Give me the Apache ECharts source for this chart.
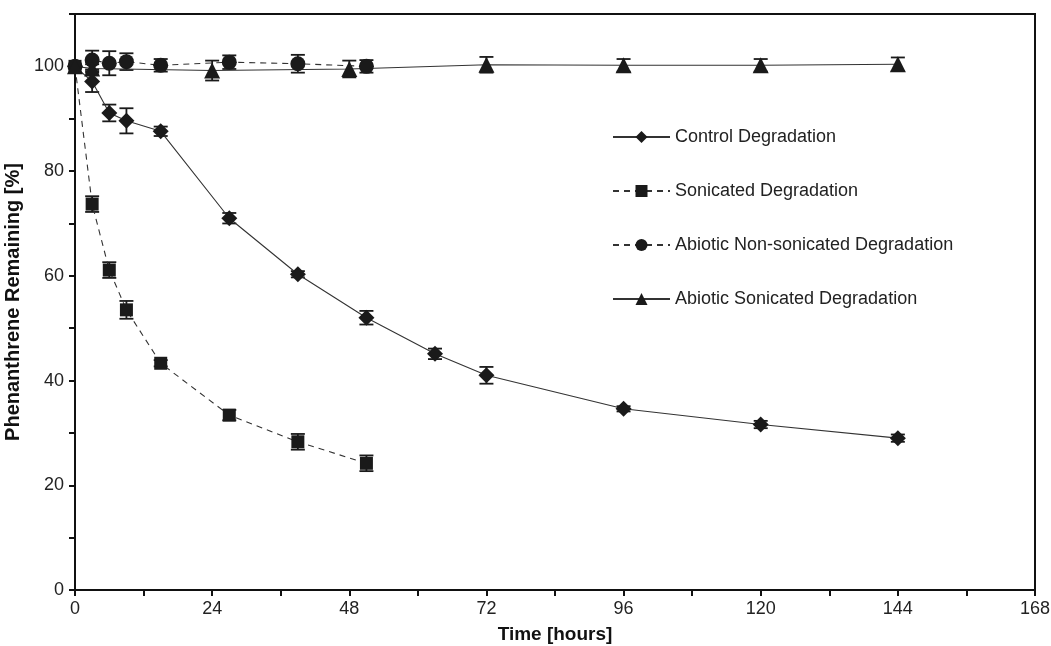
<!DOCTYPE html>
<html>
<head>
<meta charset="utf-8">
<script src="https://cdn.jsdelivr.net/npm/echarts@6/dist/echarts.min.js"></script>
<style>
  html, body { margin: 0; padding: 0; background: #fff; }
  #main { width: 1051px; height: 646px; }
</style>
</head>
<body>
<div id="main"></div>
<script>
// hours / % remaining / +- error
var controlTime = [0, 3, 6, 9, 15, 27, 39, 51, 63, 72, 96, 120, 144];
var controlVal  = [100, 97.1, 91.1, 89.6, 87.6, 71.0, 60.3, 52.0, 45.1, 41.0, 34.6, 31.6, 29.0];
var controlErr  = [0, 2.0, 1.6, 2.4, 0.9, 1.0, 0.6, 1.3, 1.0, 1.6, 0.5, 0.7, 0.7];

var sonicTime = [0, 3, 6, 9, 15, 27, 39, 51];
var sonicVal  = [100, 73.7, 61.1, 53.5, 43.3, 33.4, 28.3, 24.2];
var sonicErr  = [0, 1.5, 1.5, 1.7, 0.6, 1.0, 1.5, 1.5];

var abioticNonTime = [0, 3, 6, 9, 15, 27, 39, 51];
var abioticNonVal  = [100, 101.2, 100.6, 100.9, 100.2, 100.8, 100.5, 100.0];
var abioticNonErr  = [0, 1.8, 2.3, 1.6, 1.2, 1.3, 1.7, 1.2];

var abioticSonTime = [0, 3, 24, 48, 72, 96, 120, 144];
var abioticSonVal  = [100, 99.6, 99.2, 99.5, 100.3, 100.2, 100.2, 100.4];
var abioticSonErr  = [0, 0.8, 1.9, 1.6, 1.5, 1.2, 1.2, 1.3];

var seriesNames = ['Control Degradation', 'Sonicated Degradation',
                   'Abiotic Non-sonicated Degradation', 'Abiotic Sonicated Degradation'];

function pairs(t, v) {
    return t.map(function (x, i) { return [x, v[i]]; });
}
function errPairs(t, v, e) {
    return t.map(function (x, i) { return [x, v[i] - e[i], v[i] + e[i]]; })
            .filter(function (d) { return d[2] > d[1]; });
}

function errorBars(data) {
    return {
        type: 'custom',
        data: data,
        z: 3,
        silent: true,
        renderItem: function (params, api) {
            var x = api.value(0);
            var lo = api.coord([x, api.value(1)]);
            var hi = api.coord([x, api.value(2)]);
            var w = 7;
            var st = { stroke: '#1a1a1a', lineWidth: 1.8 };
            return {
                type: 'group',
                children: [
                    { type: 'line', shape: { x1: lo[0], y1: lo[1], x2: hi[0], y2: hi[1] }, style: st },
                    { type: 'line', shape: { x1: lo[0] - w, y1: lo[1], x2: lo[0] + w, y2: lo[1] }, style: st },
                    { type: 'line', shape: { x1: hi[0] - w, y1: hi[1], x2: hi[0] + w, y2: hi[1] }, style: st }
                ]
            };
        }
    };
}

function lineSeries(name, data, symbol, size, dashed) {
    return {
        name: name,
        type: 'line',
        data: data,
        symbol: symbol,
        symbolSize: size,
        showAllSymbol: true,
        z: 4,
        itemStyle: { color: '#1a1a1a' },
        lineStyle: { color: '#333', width: 1.1, type: dashed ? [6, 5] : 'solid' }
    };
}

var myChart = echarts.init(document.getElementById('main'));
var font = 'Liberation Sans, Arial, Helvetica, sans-serif';
var option = {
    animation: false,
    textStyle: { fontFamily: font },
    grid: { left: 75, right: 16, top: 14, bottom: 56, show: true,
            containLabel: false, outerBoundsMode: 'none',
            borderColor: '#111', borderWidth: 2 },
    legend: {
        orient: 'vertical',
        left: 607,
        top: 123,
        data: seriesNames,
        itemWidth: 57,
        itemHeight: 15,
        itemGap: 36,
        textStyle: { fontFamily: font, fontSize: 18, color: '#222' }
    },
    xAxis: {
        type: 'value',
        min: 0,
        max: 168,
        interval: 12,
        name: 'Time [hours]',
        nameLocation: 'middle',
        nameGap: 35,
        nameTextStyle: { fontFamily: font, fontSize: 19, fontWeight: 'bold', color: '#111' },
        axisLine: { lineStyle: { color: '#111', width: 2 } },
        axisTick: { inside: false, length: 6, lineStyle: { color: '#111', width: 2 } },
        axisLabel: {
            fontSize: 18, color: '#222', margin: 10,
            formatter: function (v) { return v % 24 === 0 ? String(v) : ''; }
        },
        splitLine: { show: false }
    },
    yAxis: {
        type: 'value',
        min: 0,
        max: 110,
        interval: 10,
        name: 'Phenanthrene Remaining [%]',
        nameLocation: 'middle',
        nameGap: 47,
        nameTextStyle: { fontFamily: font, fontSize: 20, fontWeight: 'bold', color: '#111' },
        axisLine: { show: true, lineStyle: { color: '#111', width: 2 } },
        axisTick: { show: true, inside: false, length: 6, lineStyle: { color: '#111', width: 2 } },
        axisLabel: {
            fontSize: 18, color: '#222', margin: 11,
            formatter: function (v) { return v % 20 === 0 ? String(v) : ''; }
        },
        splitLine: { show: false }
    },
    series: [
        errorBars(errPairs(controlTime, controlVal, controlErr)),
        errorBars(errPairs(sonicTime, sonicVal, sonicErr)),
        errorBars(errPairs(abioticNonTime, abioticNonVal, abioticNonErr)),
        errorBars(errPairs(abioticSonTime, abioticSonVal, abioticSonErr)),
        lineSeries(seriesNames[0], pairs(controlTime, controlVal), 'diamond', 16, false),
        lineSeries(seriesNames[1], pairs(sonicTime, sonicVal), 'rect', 13, true),
        lineSeries(seriesNames[2], pairs(abioticNonTime, abioticNonVal), 'circle', 15, true),
        lineSeries(seriesNames[3], pairs(abioticSonTime, abioticSonVal), 'triangle', 16, false)
    ]
};
myChart.setOption(option);
</script>
</body>
</html>
